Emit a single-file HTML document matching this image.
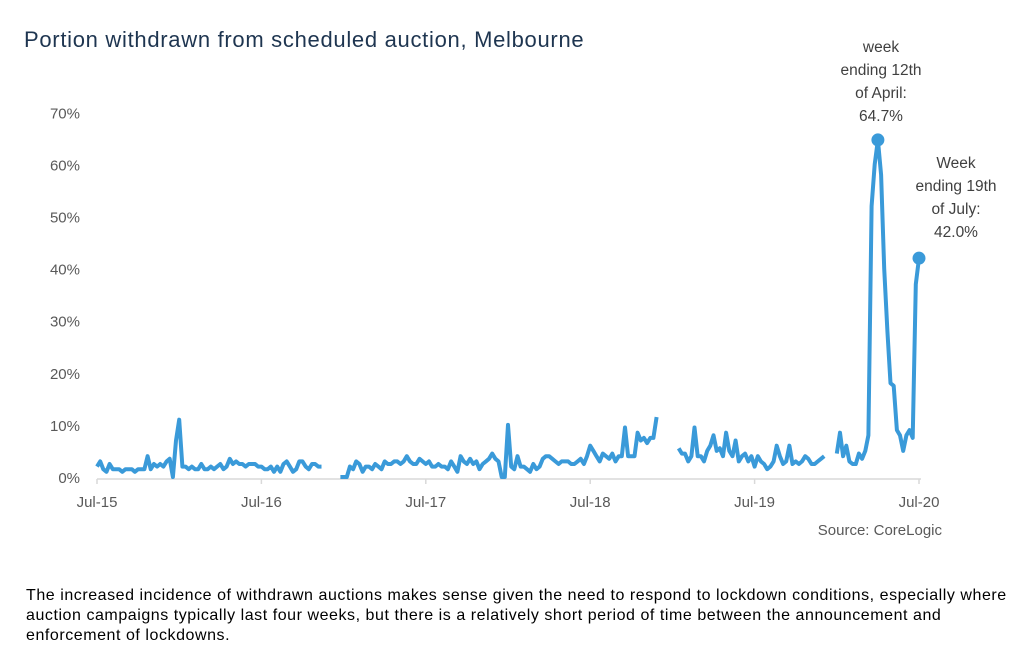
<!DOCTYPE html>
<html><head><meta charset="utf-8"><style>
body{margin:0;background:#fff;width:1030px;height:670px;overflow:hidden;font-family:"Liberation Sans",sans-serif}
#title{position:absolute;left:24px;top:27px;font-size:22px;letter-spacing:0.7px;color:#1e3550}
#note{position:absolute;left:26px;top:586px;white-space:nowrap;font-size:16px;letter-spacing:0.55px;line-height:20px;color:#000}
svg{position:absolute;left:0;top:0}
</style></head><body>
<div id="title">Portion withdrawn from scheduled auction, Melbourne</div>
<svg id="chart" width="1030" height="580"></svg>
<div id="note">The increased incidence of withdrawn auctions makes sense given the need to respond to lockdown conditions, especially where<br>auction campaigns typically last four weeks, but there is a relatively short period of time between the announcement and<br>enforcement of lockdowns.</div>
<script>
const yTicks=[0,10,20,30,40,50,60,70];
const xTickLabels=["Jul-15","Jul-16","Jul-17","Jul-18","Jul-19","Jul-20"];
const segA=[2,3,1.5,1,2.5,1.5,1.5,1.5,1,1.5,1.5,1.5,1,1.5,1.5,1.5,4,1.5,2.5,2,2.5,2,3,3.5,0,7,11,2,2,1.5,2,1.5,1.5,2.5,1.5,1.5,2,1.5,2,2.5,1.5,2,3.5,2.5,3,2.5,2.5,2,2.5,2.5,2.5,2,2,1.5,1.5,2,1,2,1,2.5,3,2,1,1.5,3,3,2,1.5,2.5,2.5,2,2];
const segB=[0,0,0,2,1.5,3,2.5,1,2,2,1.5,2.5,2,1.5,3,2.5,2.5,3,3,2.5,3,4,3,2.5,2.5,3.5,3,2.5,3,2,2,2.5,2,2,1.5,3,2,1,4,3,2.5,3.5,2.5,3,1.5,2.5,3,3.5,4.5,3.5,3,0,0,10,2,1.5,4,2,2,1.5,1,2.5,1.5,2,3.5,4,4,3.5,3,2.5,3,3,3,2.5,2.5,3,3.5,2.5,4,6,5,4,3,4.5,4,3.5,4.5,3,4,4,9.5,4,4,4,8.5,7,7.5,6.5,7.5,7.5,11.5];
const segC=[5.5,4.5,4.5,3,4,9.5,4,4,3,5,6,8,5,5.5,4,8.5,5,4,7,3,4,4.5,3,4,2,4,3,2.5,1.5,2,3,6,4,2.5,3,6,2.5,3,2.5,3,4,3.5,2.5,2.5,3,3.5,4];
const segD=[4.5,8.5,4,6,3,2.5,2.5,4.5,3.5,5,8,52,60,64.7,58,40,28,18,17.5,9,8,5,8,9,7.5,37,42];
const segStarts=[0,77,184,234];
const segs=[segA,segB,segC,segD];
const svg=document.getElementById('chart');
const NS='http://www.w3.org/2000/svg';
const X0=97,X1=919,Y0=477,YPER=5.21;
const totalWeeks=260;
function x(w){return X0+w*(X1-X0)/totalWeeks;}
function y(v){return Y0-v*YPER;}
function mk(t,a){const e=document.createElementNS(NS,t);for(const k in a)e.setAttribute(k,a[k]);svg.appendChild(e);return e;}
yTicks.forEach(v=>{const t=mk('text',{x:80,y:y(v)+6,'text-anchor':'end','font-size':15,fill:'#595959'});t.textContent=v+'%';

});
const ax=mk('line',{x1:X0,x2:X1+2,y1:Y0+2,y2:Y0+2,stroke:'#d9d9d9','stroke-width':1.5});


xTickLabels.forEach((l,i)=>{const xx=X0+i*(X1-X0)/5;
const tk=mk('line',{x1:xx,x2:xx,y1:Y0+2,y2:Y0+7,stroke:'#d9d9d9','stroke-width':1.5});


const t=mk('text',{x:xx,y:Y0+30,'text-anchor':'middle','font-size':15,fill:'#595959'});t.textContent=l;

});
segs.forEach((s,si)=>{const d=s.map((v,i)=>(i?'L':'M')+x(segStarts[si]+i).toFixed(1)+' '+y(v).toFixed(1)).join(' ');
const p=mk('path',{d:d,fill:'none',stroke:'#3a9ad9','stroke-width':4,'stroke-linejoin':'round'});

});
const pkI=segD.indexOf(Math.max(...segD));
const c1=mk('circle',{cx:x(segStarts[3]+pkI),cy:y(segD[pkI]),r:6.5,fill:'#3a9ad9'});


const last=segD.length-1;
const c2=mk('circle',{cx:x(segStarts[3]+last),cy:y(segD[last]),r:6.5,fill:'#3a9ad9'});


function ann(lines,cx,top,name){lines.forEach((l,i)=>{const t=mk('text',{x:cx,y:top+i*23,'text-anchor':'middle','font-size':15.5,fill:'#404040'});t.textContent=l;

});}
ann(['week','ending 12th','of April:',segD[pkI].toFixed(1)+'%'],881,52,'peak-annotation');
ann(['Week','ending 19th','of July:',segD[last].toFixed(1)+'%'],956,168,'latest-annotation');
const src=mk('text',{x:942,y:535,'text-anchor':'end','font-size':15,fill:'#595959'});src.textContent='Source: CoreLogic';


</script>
</body></html>
